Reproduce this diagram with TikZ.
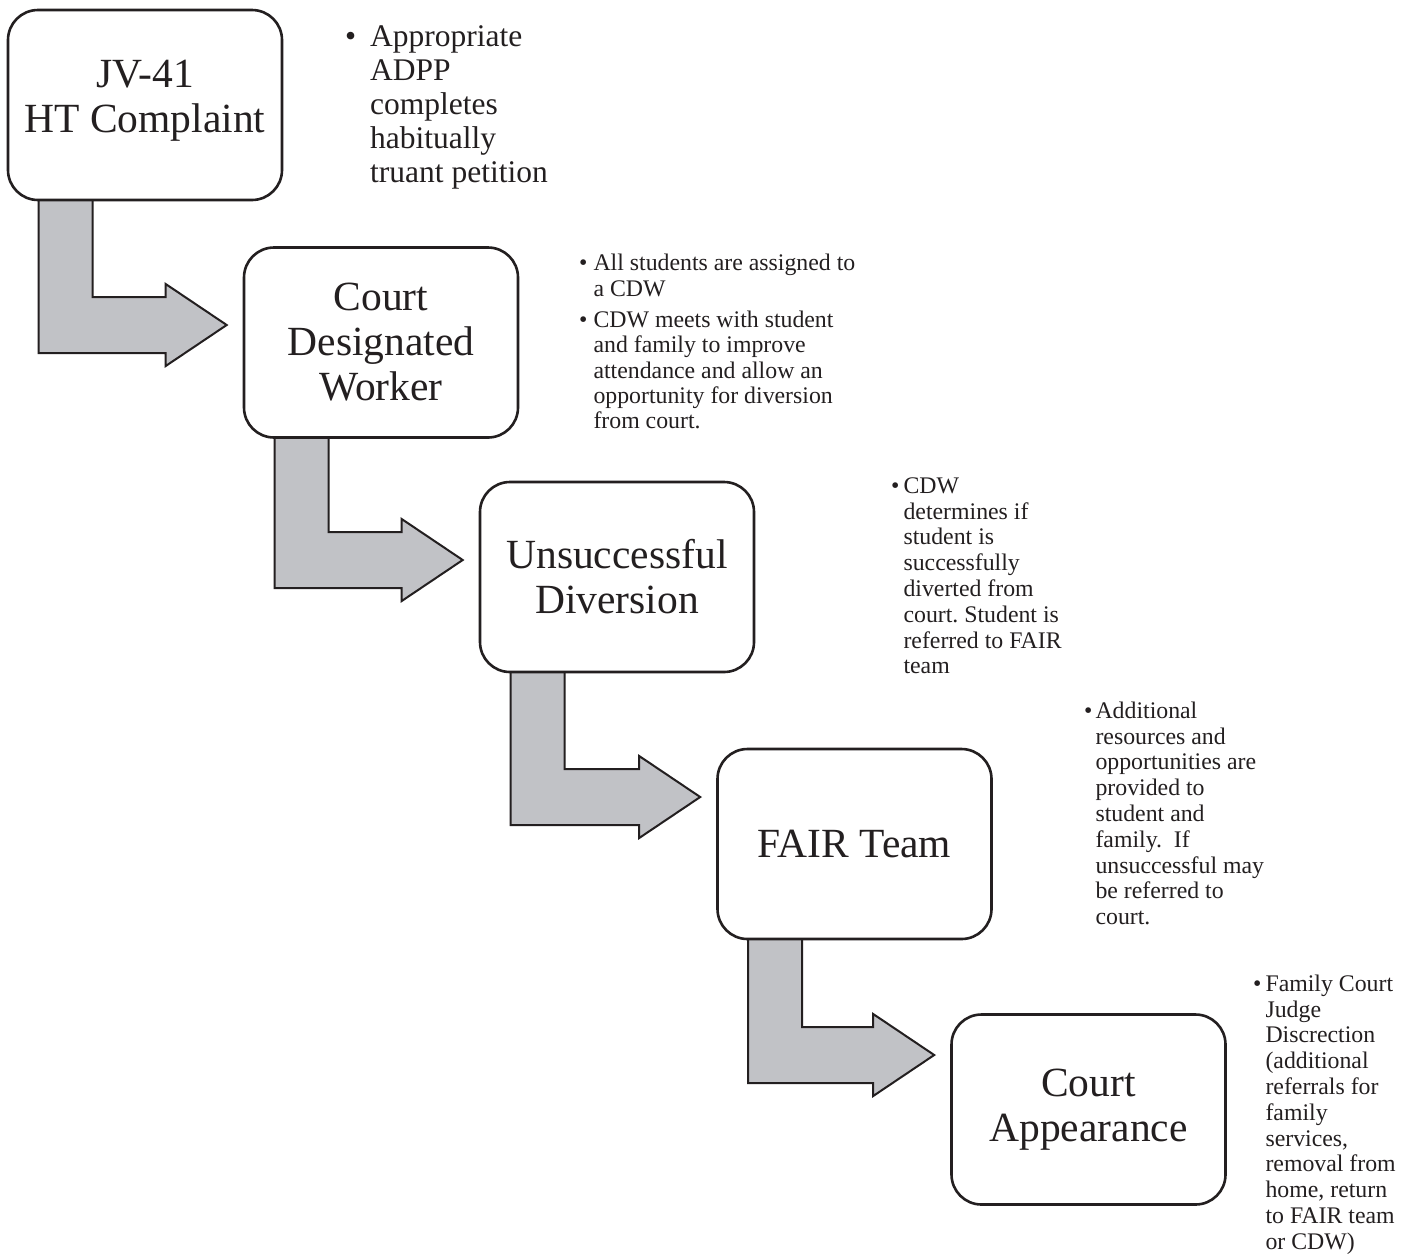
\documentclass[tikz,border=0pt]{standalone}
\usepackage{fontspec}
\setmainfont{Liberation Serif}
\usetikzlibrary{calc,backgrounds}
\definecolor{ink}{HTML}{231F20}
\definecolor{shaft}{HTML}{C1C2C6}
\frenchspacing

% L-shaped block arrow: shaft leaves the bottom of #1, bar centred at y=#3,
% head points at the west side of #2
\newcommand\bentarrow[3]{%
  \coordinate (s) at ($(#1.south west)+(32,-2)$);
  \coordinate (yc) at (0,#3);
  \coordinate (t) at ($(#2.west |- yc)+(-16,0)$);
  \begin{scope}[on background layer]
    \draw[blockarrow] (s) -- ++(54,0) -- ($(s |- t)+(54,-28)$) -- ($(t)+(-61,-28)$)
      -- ($(t)+(-61,-41)$) -- (t) -- ($(t)+(-61,41)$) -- ($(t)+(-61,28)$)
      -- ($(s |- t)+(0,28)$) -- cycle;
  \end{scope}%
}

\begin{document}
\begin{tikzpicture}[x=1pt,y=-1pt,
  stage/.style={draw=ink, line width=2.6pt, rounded corners=30pt, fill=white,
    minimum width=274pt, minimum height=190pt, inner sep=0pt, align=center,
    text=ink, font=\fontsize{41.5}{45}\selectfont},
  blockarrow/.style={draw=ink, line width=2pt, fill=shaft, line join=miter},
  note/.style={anchor=north west, inner sep=0pt, text=ink},
  bignote/.style={note, font=\fontsize{31.5}{34}\selectfont},
  smallnote/.style={note, font=\fontsize{23.8}{25.8}\selectfont}
]
\useasboundingbox (0,0) rectangle (1410,1254);
\begin{scope}[on background layer]
  \fill[white] (0,0) rectangle (1410,1254);
\end{scope}

% process stages
\node[stage, text depth=17pt] (b1) at (145,105) {JV-41\\HT Complaint};
\node[stage] (b2) at (381,342.5) {Court\\Designated\\Worker};
\node[stage] (b3) at (617,577) {Unsuccessful\\Diversion};
\node[stage] (b4) at (854.5,844) {FAIR Team};
\node[stage] (b5) at (1088.5,1109.5) {Court\\Appearance};

% connectors
\bentarrow{b1}{b2}{325}
\bentarrow{b2}{b3}{560}
\bentarrow{b3}{b4}{797}
\bentarrow{b4}{b5}{1055}

% notes beside each stage
\node[bignote] (n1) at (345,22) {\begin{tabular}{@{}l@{\hspace{14pt}}l@{}}
  • & Appropriate\\ & ADPP\\ & completes\\ & habitually\\ & truant petition
\end{tabular}};
\node[smallnote, font=\fontsize{23.8}{25.3}\selectfont] (n2) at (579,253)
  {\begin{tabular}{@{}l@{\hspace{6pt}}l@{}}
  • & All students are assigned to\\ & a CDW\\[6pt]
  • & CDW meets with student\\ & and family to improve\\ & attendance and allow an\\
    & opportunity for diversion\\ & from court.
\end{tabular}};
\node[smallnote] (n3) at (891,475) {\begin{tabular}{@{}l@{\hspace{4pt}}l@{}}
  • & CDW\\ & determines if\\ & student is\\ & successfully\\ & diverted from\\
    & court. Student is\\ & referred to FAIR\\ & team
\end{tabular}};
\node[smallnote] (n4) at (1084,700) {\begin{tabular}{@{}l@{\hspace{3pt}}l@{}}
  • & Additional\\ & resources and\\ & opportunities are\\ & provided to\\
    & student and\\ & family.\ \ If\\ & unsuccessful may\\ & be referred to\\ & court.
\end{tabular}};
\node[smallnote] (n5) at (1253,973) {\begin{tabular}{@{}l@{\hspace{4pt}}l@{}}
  • & Family Court\\ & Judge\\ & Discrection\\ & (additional\\ & referrals for\\
    & family\\ & services,\\ & removal from\\ & home, return\\ & to FAIR team\\ & or CDW)
\end{tabular}};
\end{tikzpicture}
\end{document}
